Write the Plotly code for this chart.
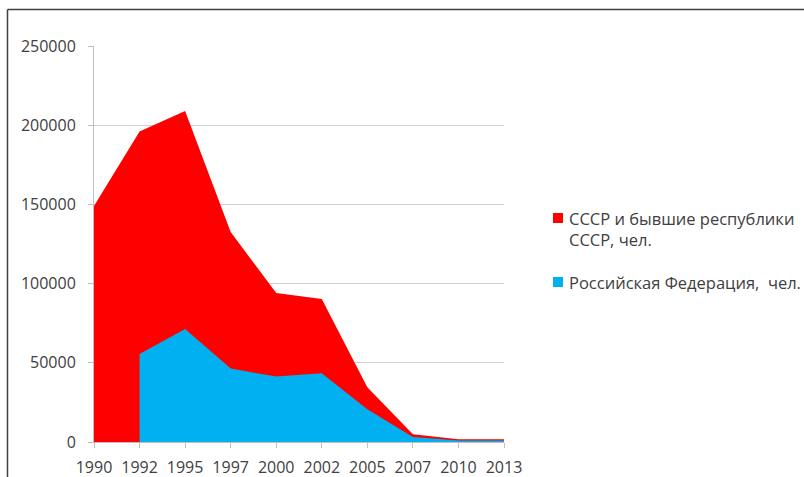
import plotly.graph_objects as go

years = ["1990", "1992", "1995", "1997", "2000", "2002", "2005", "2007", "2010", "2013"]
ussr = [149000, 196000, 209000, 132500, 94000, 90300, 34500, 4900, 1800, 1800]
rf = [None, 55500, 71300, 46400, 41300, 43400, 20700, 3200, 1000, 1000]

name_ussr = "СССР и бывшие республики<br>СССР, чел."
name_rf = "Российская Федерация,  чел."
red = "#ff0000"
blue = "#00b0f0"

font_family = "Open Sans, Liberation Sans, sans-serif"
text_color = "#404040"

fig = go.Figure()
fig.add_trace(go.Scatter(
    x=years, y=ussr, name=name_ussr, mode="lines", showlegend=False,
    line=dict(width=0, color=red), fill="tozeroy", fillcolor=red,
))
fig.add_trace(go.Scatter(
    x=years, y=rf, name=name_rf, mode="lines", connectgaps=False, showlegend=False,
    line=dict(width=0, color=blue), fill="tozeroy", fillcolor=blue,
))

W, H = 804, 477
L, R, T, B = 94, 804 - 504, 46, 477 - 442
pw, ph = W - L - R, H - T - B

def px_x(px):
    return (px - L) / pw

def px_y(py):
    return (H - B - py) / ph

# legend drawn as swatches + text (positioned like the original side legend)
legend_items = [
    (name_ussr, red, 218.0, 229.4),
    (name_rf, blue, 282.0, 282.0),
]
shapes = []
annotations = []
for label, color, sq_cy, txt_cy in legend_items:
    shapes.append(dict(
        type="rect", xref="paper", yref="paper",
        x0=px_x(553), x1=px_x(563), y0=px_y(sq_cy - 5), y1=px_y(sq_cy + 5),
        fillcolor=color, line=dict(width=0),
    ))
    annotations.append(dict(
        text=label, xref="paper", yref="paper", showarrow=False,
        x=px_x(567), y=px_y(txt_cy), xanchor="left", yanchor="middle",
        align="left", font=dict(size=16.5, color=text_color, family=font_family),
    ))

# chart frame (top and left edges)
shapes += [
    dict(type="line", xref="paper", yref="paper",
         x0=px_x(7.5), x1=px_x(805), y0=px_y(9.5), y1=px_y(9.5),
         line=dict(color="#404040", width=1.5)),
    dict(type="line", xref="paper", yref="paper",
         x0=px_x(7.5), x1=px_x(7.5), y0=px_y(9.5), y1=px_y(478),
         line=dict(color="#404040", width=1.5)),
]

fig.update_layout(
    width=W, height=H,
    margin=dict(l=L, r=R, t=T, b=B, autoexpand=False),
    paper_bgcolor="white", plot_bgcolor="white",
    font=dict(family=font_family, size=15, color=text_color),
    showlegend=False,
    xaxis=dict(
        type="category", range=[0, 9], showgrid=False, automargin=False,
        showline=True, linecolor="#bfbfbf", linewidth=1,
        ticks="outside", ticklen=5, tickcolor="#bfbfbf",
        ticklabelstandoff=6,
        tickfont=dict(size=16, color=text_color),
        fixedrange=True,
    ),
    yaxis=dict(
        range=[0, 250000], dtick=50000, tickformat="d", automargin=False,
        showgrid=True, gridcolor="#d0d0d0", gridwidth=1,
        showline=True, linecolor="#bfbfbf", linewidth=1,
        ticks="outside", ticklen=5, tickcolor="#bfbfbf",
        ticklabelstandoff=9,
        tickfont=dict(size=16, color=text_color),
        zeroline=False, fixedrange=True,
    ),
    shapes=shapes,
    annotations=annotations,
)

fig.write_html(
    "out.html",
    config={"displayModeBar": False},
    post_script="document.body.style.margin='0';document.body.style.overflow='hidden';",
)
